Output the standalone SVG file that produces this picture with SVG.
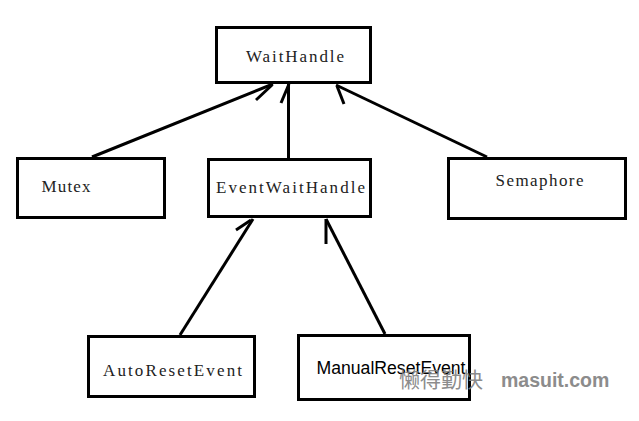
<svg xmlns="http://www.w3.org/2000/svg" width="639" height="421" viewBox="0 0 639 421">
<style>
.box{fill:#fff;stroke:#000;stroke-width:3}
.lbl{font-family:"Liberation Serif","DejaVu Serif",serif;font-size:17px;fill:#222}
.sans{font-family:"Liberation Sans",Arial,sans-serif;font-size:17.5px;fill:#000}
.ln{stroke:#000;stroke-width:3;fill:none;stroke-linecap:butt}
.wm{fill:#808080;opacity:0.9}
</style>
<rect width="639" height="421" fill="#fff"/>
<g id="connectors">
<line class="ln" x1="92" y1="157" x2="273" y2="84"/>
<line class="ln" x1="256" y1="100" x2="272" y2="85"/>
<line class="ln" x1="288.5" y1="158" x2="288.5" y2="84"/>
<line class="ln" x1="281" y1="103" x2="289" y2="84"/>
<line class="ln" x1="487" y1="157" x2="336" y2="85"/>
<line class="ln" x1="344" y1="104" x2="337" y2="86"/>
<line class="ln" x1="180" y1="335" x2="253" y2="219"/>
<line class="ln" x1="236" y1="230" x2="251" y2="220"/>
<line class="ln" x1="385" y1="334" x2="326" y2="219"/>
<line class="ln" x1="326" y1="219" x2="326" y2="244"/>
</g>
<g id="WaitHandle">
<rect class="box" x="216.5" y="27.5" width="154" height="55"/>
<text class="lbl" x="246" y="61.5" textLength="98" lengthAdjust="spacing">WaitHandle</text>
</g>
<g id="Mutex">
<rect class="box" x="17.5" y="158.5" width="147" height="59"/>
<text class="lbl" x="41.5" y="192" textLength="49" lengthAdjust="spacing">Mutex</text>
</g>
<g id="EventWaitHandle">
<rect class="box" x="208.5" y="159.5" width="162" height="57"/>
<text class="lbl" x="216" y="192.5" textLength="149" lengthAdjust="spacing">EventWaitHandle</text>
</g>
<g id="Semaphore">
<rect class="box" x="448.5" y="158.5" width="177" height="60"/>
<text class="lbl" x="495.5" y="185.5" textLength="88" lengthAdjust="spacing">Semaphore</text>
</g>
<g id="AutoResetEvent">
<rect class="box" x="88.5" y="336.5" width="166" height="60"/>
<text class="lbl" x="103" y="375.5" textLength="139" lengthAdjust="spacing">AutoResetEvent</text>
</g>
<g id="ManualResetEvent">
<rect class="box" x="298.5" y="335.5" width="171" height="64"/>
<text class="sans" x="316.5" y="374" textLength="149" lengthAdjust="spacingAndGlyphs">ManualResetEvent</text>
</g>
<g id="watermark" class="wm">
<text x="399" y="387" font-family="'Noto Sans CJK SC',sans-serif" font-size="21px" fill="#808080">懒得勤快</text>
<text x="501" y="387" font-family="'Liberation Sans',Arial,sans-serif" font-weight="bold" font-size="19.5px" fill="#808080">masuit.com</text>
</g>
</svg>
